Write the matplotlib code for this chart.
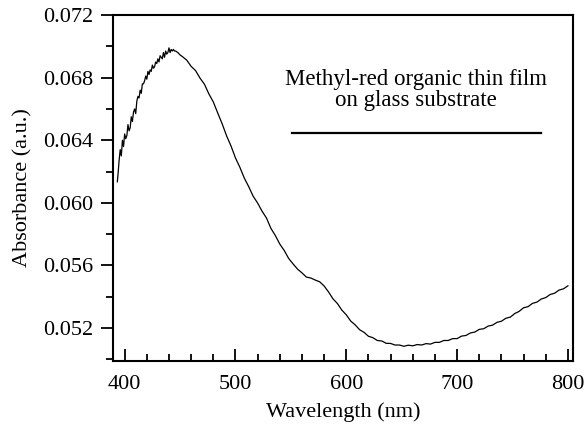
import matplotlib
matplotlib.use('Agg')
from matplotlib import pyplot as plt
from matplotlib.ticker import MultipleLocator, FormatStrFormatter

# wavelength (nm) and absorbance
wl_blue = [393.4, 394, 395, 396, 397, 398, 399, 400, 401, 402, 403, 404, 405,
           406, 407, 408, 409, 410, 411, 412, 413, 414, 415, 416, 417, 418,
           419, 420, 421, 422, 423, 424, 425, 426, 427, 428, 429, 430, 431,
           432, 433, 434, 435, 436, 437, 438, 439, 440, 441, 442, 443, 444,
           445, 446, 447, 448, 450]
abs_blue = [0.06135, 0.0618, 0.0627, 0.0634, 0.0630, 0.0640, 0.0636, 0.0644,
            0.0641, 0.0643, 0.0650, 0.0646, 0.0648, 0.0655, 0.0652, 0.0658,
            0.0660, 0.0657, 0.0665, 0.0668, 0.0667, 0.0672, 0.0670, 0.0676,
            0.0676, 0.0678, 0.0681, 0.0679, 0.0684, 0.0682, 0.0685, 0.0684,
            0.0688, 0.0686, 0.0687, 0.0690, 0.0689, 0.0692, 0.0690, 0.0694,
            0.0693, 0.0692, 0.0696, 0.0693, 0.0697, 0.0695, 0.0696, 0.0699,
            0.0696, 0.0698, 0.0697, 0.0698, 0.0697, 0.0697, 0.06965, 0.0696,
            0.06945]

wl_red = list(range(452, 801, 4))
abs_red = [0.06935, 0.06912, 0.06872, 0.06845, 0.06797, 0.06758, 0.06696,
           0.06645, 0.06574, 0.06505, 0.06428, 0.06363, 0.06287, 0.06227,
           0.06158, 0.06103, 0.06042, 0.05999, 0.05947, 0.05903, 0.05837,
           0.05791, 0.05737, 0.05696, 0.05645, 0.05610, 0.05577, 0.05553,
           0.05526, 0.05520, 0.05507, 0.05496, 0.05469, 0.05431, 0.05387,
           0.05357, 0.05315, 0.05285, 0.05245, 0.05221, 0.05190, 0.05173,
           0.05148, 0.05139, 0.05121, 0.05118, 0.05103, 0.05102, 0.05092,
           0.05092, 0.05084, 0.05091, 0.05087, 0.05095, 0.05092, 0.05101,
           0.05098, 0.05109, 0.05109, 0.05121, 0.05121, 0.05133, 0.05133,
           0.05149, 0.05153, 0.05169, 0.05175, 0.05192, 0.05196, 0.05213,
           0.05219, 0.05237, 0.05244, 0.05263, 0.05270, 0.05293, 0.05307,
           0.05330, 0.05337, 0.05358, 0.05366, 0.05386, 0.05395, 0.05415,
           0.05423, 0.05443, 0.05451, 0.05470]

label_text = 'Methyl-red organic thin film\non glass substrate'


def main() -> None:
    plt.rcParams['font.family'] = ['Liberation Serif', 'DejaVu Serif']
    plt.rcParams['font.size'] = 16

    fig = plt.figure(figsize=(5.84, 4.25), dpi=100)
    ax = fig.add_axes([0.1935, 0.1506, 0.7875, 0.8141])

    ax.plot(wl_blue + wl_red, abs_blue + abs_red, color='black', lw=0.9)

    ax.set_xlim(389.5, 804.5)
    ax.set_ylim(0.0499, 0.072)

    ax.xaxis.set_major_locator(MultipleLocator(100))
    ax.xaxis.set_minor_locator(MultipleLocator(20))
    ax.yaxis.set_minor_locator(MultipleLocator(0.002))
    ax.yaxis.set_major_formatter(FormatStrFormatter('%.3f'))
    ax.set_yticks([0.052, 0.056, 0.060, 0.064, 0.068, 0.072])

    ax.tick_params(axis='x', which='both', direction='in', top=False,
                   pad=10)
    ax.tick_params(axis='y', which='both', direction='out', right=False,
                   pad=5)
    ax.tick_params(which='major', length=9, width=1.3)
    ax.tick_params(which='minor', length=5, width=1.3)
    for s in ax.spines.values():
        s.set_linewidth(1.5)

    ax.set_xlabel('Wavelength (nm)', labelpad=6)
    ax.set_ylabel('Absorbance (a.u.)', labelpad=8)

    ax.text(0.659, 0.783, label_text, transform=ax.transAxes, ha='center',
            va='center', fontsize=16.5, linespacing=1.0)
    ax.plot([0.389, 0.930], [0.659, 0.659], transform=ax.transAxes,
            color='black', lw=1.6)

    fig.savefig('out.png', dpi=100)


if __name__ == '__main__':
    main()
